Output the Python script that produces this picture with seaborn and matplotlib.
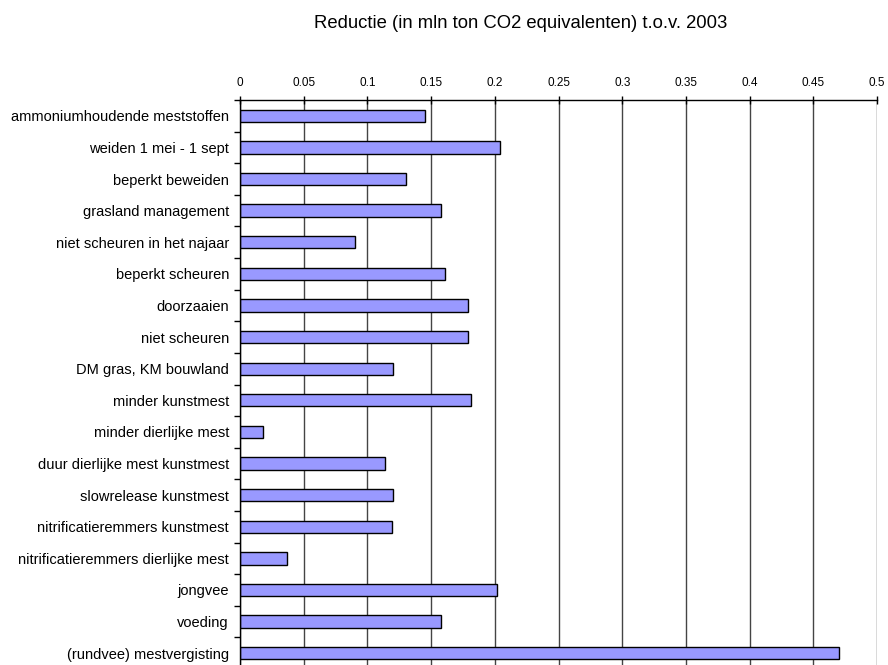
import matplotlib
matplotlib.use("Agg")
import matplotlib.pyplot as plt
import seaborn as sns
import pandas as pd
from matplotlib.ticker import FixedLocator

categories = [
    "ammoniumhoudende meststoffen",
    "weiden 1 mei - 1 sept",
    "beperkt beweiden",
    "grasland management",
    "niet scheuren in het najaar",
    "beperkt scheuren",
    "doorzaaien",
    "niet scheuren",
    "DM gras, KM bouwland",
    "minder kunstmest",
    "minder dierlijke mest",
    "duur dierlijke mest kunstmest",
    "slowrelease kunstmest",
    "nitrificatieremmers kunstmest",
    "nitrificatieremmers dierlijke mest",
    "jongvee",
    "voeding",
    "(rundvee) mestvergisting",
]
values = [0.145, 0.204, 0.130, 0.158, 0.090, 0.161, 0.179, 0.179, 0.120,
          0.181, 0.018, 0.114, 0.120, 0.119, 0.037, 0.202, 0.158, 0.470]
xticks = [0, 0.05, 0.1, 0.15, 0.2, 0.25, 0.3, 0.35, 0.4, 0.45, 0.5]
xtick_labels = ["0", "0.05", "0.1", "0.15", "0.2", "0.25", "0.3", "0.35", "0.4", "0.45", "0.5"]
title = "Reductie (in mln ton CO2 equivalenten) t.o.v. 2003"

sns.set_style("white")
plt.rcParams["font.family"] = ["Liberation Sans", "DejaVu Sans"]
plt.rcParams["text.color"] = "black"
plt.rcParams["xtick.labelcolor"] = "black"
plt.rcParams["ytick.labelcolor"] = "black"

df = pd.DataFrame({"cat": categories, "val": values})

fig = plt.figure(figsize=(8.88, 6.65), dpi=100)
ax = fig.add_axes([240 / 888, 1 - 669 / 665, (877 - 240) / 888, 569 / 665])

sns.barplot(data=df, x="val", y="cat", orient="h", color="#9999FF",
            saturation=1, edgecolor="black", linewidth=1.0, width=0.39, ax=ax)

ax.set_xlim(0, 0.5)
ax.set_ylim(len(categories) - 0.5, -0.5)
ax.xaxis.tick_top()
ax.set_xticks(xticks)
ax.set_xticklabels(xtick_labels, fontsize=8.5, color="black")
ax.tick_params(axis="x", which="major", direction="inout", length=6, width=1,
               color="black", pad=5)
ax.grid(axis="x", color="#444444", linewidth=1.0)
ax.set_axisbelow(True)

ax.yaxis.set_minor_locator(FixedLocator([i - 0.5 for i in range(len(categories) + 1)]))
ax.tick_params(axis="y", which="major", length=0, labelsize=10.5, pad=8, labelcolor="black")
ax.tick_params(axis="y", which="minor", length=4, width=1, direction="out", color="black", left=True)
ax.set_xlabel("")
ax.set_ylabel("")

for s in ["top", "left"]:
    ax.spines[s].set_visible(True)
    ax.spines[s].set_color("black")
    ax.spines[s].set_linewidth(1.0)
ax.spines["right"].set_visible(False)
ax.spines["bottom"].set_visible(False)

fig.text(521 / 888, 1 - 27.5 / 665, title, ha="center", va="baseline", fontsize=13.3, color="black")

fig.savefig("out.png", dpi=100)
